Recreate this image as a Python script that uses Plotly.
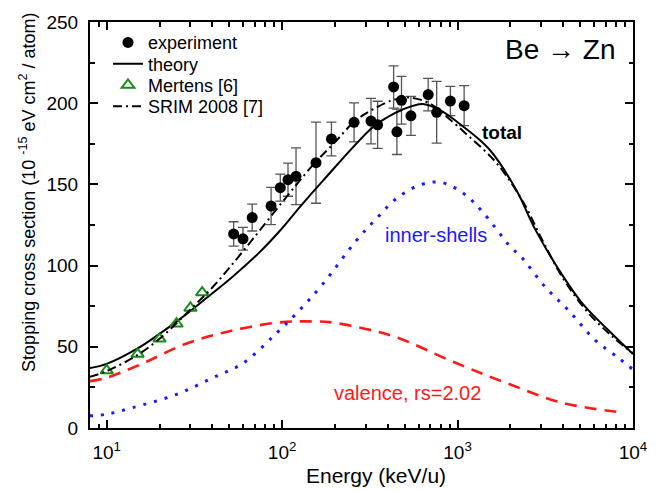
import numpy as np
import plotly.graph_objects as go

# ---- data ----
exp_E = [52.9, 59.8, 67.5, 86.5, 97.6, 108, 120, 156, 191, 257, 321, 350,
         432, 451, 479, 542, 680, 760, 910, 1090]
exp_S = [119.5, 116.5, 129.6, 136.7, 148, 152.9, 155, 163.4, 178, 188.2, 189, 186.7,
         210, 182.4, 201.8, 192.2, 205.3, 194.4, 201.3, 198.5]
exp_err = [7.5, 7, 8.3, 11.5, 8.3, 10.2, 17.5, 25, 10.4, 12, 14, 14.5,
           13, 14, 14.7, 12, 10, 19, 9, 12.3]

mert_E = [10, 15, 20, 25, 30, 35]
mert_S = [35.4, 45.5, 54.9, 64.2, 73.9, 83.4]

theory_E = [8, 10, 15, 20, 25, 30, 37, 52, 74, 100, 126, 170, 327,
            400, 484, 630, 786, 1065, 1520, 2150, 2780, 3930, 5170, 7270, 10000]
theory_S = [36.9, 39.5, 49, 58, 65.5, 72, 80, 93, 108, 123, 136, 152, 185,
            191.5, 196, 199.5, 196, 186, 171.5, 147, 122, 94.6, 76.4, 60, 45.5]

srim_E = [8, 10, 15, 20, 25, 30, 40, 60, 100, 150, 200, 260, 327, 430, 530, 690, 860,
          1160, 1660, 2370, 3000, 4000, 5500, 7500, 10000]
srim_S = [31.5, 35, 45, 55, 64.5, 73, 86.5, 109, 139, 162, 176, 189, 196, 202, 203.5, 200, 192,
          179.6, 163.4, 139, 117, 92, 71.5, 57, 46]

inner_E = [8, 10, 14, 25, 40, 60, 92, 125, 170, 263, 345, 445, 608, 800, 1070, 1390,
           2030, 2250, 3180, 4300, 6100, 8300, 10000]
inner_S = [7.5, 8.5, 12.5, 20.7, 30.8, 40, 58, 72.3, 88.5, 115, 129, 141, 149.6, 151.3, 144.8, 133,
           110.8, 106.7, 86.5, 72.3, 54, 43, 36]

val_E = [8, 10, 15.4, 28.5, 52, 100, 150, 186, 300, 445, 980, 1890, 3930, 8800]
val_S = [28.8, 31, 38.9, 52, 60, 65.2, 65.6, 65.2, 61, 56, 40, 27.8, 15.6, 9.5]

x_tickvals = [10, 100, 1000, 10000]
x_ticktext = ["10<sup>1</sup>", "10<sup>2</sup>", "10<sup>3</sup>", "10<sup>4</sup>"]
x_minor = [9] + [m * 10 ** k for k in (1, 2, 3) for m in range(2, 10)]

FONT = "Liberation Sans, Arial, sans-serif"

fig = go.Figure()

fig.add_trace(go.Scatter(x=val_E, y=val_S, mode="lines", showlegend=False,
                         line=dict(color="#ff1a1a", width=2.6, dash="12px,8px", shape="spline")))
fig.add_trace(go.Scatter(x=inner_E, y=inner_S, mode="lines", showlegend=False,
                         line=dict(color="#1a1aff", width=3, dash="3px,8px", shape="spline")))

fig.add_trace(go.Scatter(x=exp_E, y=exp_S, mode="markers", name="experiment", legend="legend",
                         marker=dict(color="black", size=11, symbol="circle"),
                         error_y=dict(type="data", array=exp_err, color="#555555",
                                      thickness=1.3, width=5)))
fig.add_trace(go.Scatter(x=theory_E, y=theory_S, mode="lines", name="theory", legend="legend2",
                         line=dict(color="black", width=2, shape="spline")))
fig.add_trace(go.Scatter(x=mert_E, y=mert_S, mode="markers", name="Mertens [6]", legend="legend3",
                         marker=dict(symbol="triangle-up-open", size=11, color="#1a8c1a",
                                     line=dict(width=2, color="#1a8c1a"))))
fig.add_trace(go.Scatter(x=srim_E, y=srim_S, mode="lines", name="SRIM 2008 [7]", legend="legend4",
                         line=dict(color="black", width=2, dash="9px,4px,2px,4px", shape="spline")))

axis_common = dict(showline=True, linecolor="black", linewidth=2, mirror="ticks",
                   ticks="inside", ticklen=8, tickwidth=1.5, tickcolor="black",
                   showgrid=False, zeroline=False,
                   tickfont=dict(family=FONT, size=19, color="black"))

fig.update_xaxes(type="log", range=[np.log10(8.03), 4], tickvals=x_tickvals, ticktext=x_ticktext,
                 minor=dict(tickvals=x_minor, ticks="inside", ticklen=4.5, tickwidth=1.5,
                            tickcolor="black", showgrid=False),
                 ticklabelstandoff=6, **axis_common)
fig.update_yaxes(range=[0, 250], tickvals=[0, 50, 100, 150, 200, 250],
                 minor=dict(dtick=25, ticks="inside", ticklen=4.5, tickwidth=1.5,
                            tickcolor="black", showgrid=False),
                 ticklabelstandoff=6, **axis_common)

W, H = 664, 491
L, R, T, B = 90, 31, 17, 63
pw, ph = W - L - R, H - T - B


def px(xp):
    return (xp - L) / pw


def py(yp):
    return (H - B - yp) / ph


annotations = [
    dict(text="Stopping cross section (10 <sup>-15</sup> eV cm<sup>2</sup> / atom)",
         x=px(28), y=py(190), textangle=-90, font=dict(size=18)),
    dict(text="Energy (keV/u)", x=px(376), y=py(476), font=dict(size=21)),
    dict(text="Be \u2192 Zn", x=px(617), y=py(45), xanchor="right", font=dict(size=28)),
    dict(text="<b>total</b>", x=px(502), y=py(129), font=dict(size=19)),
    dict(text="inner-shells", x=px(436), y=py(233), font=dict(size=20, color="#1a1aff")),
    dict(text="valence, rs=2.02", x=px(407), y=py(393), font=dict(size=20, color="#ff1a1a")),
]
for a in annotations:
    a.setdefault("xanchor", "center")
    a.update(xref="paper", yref="paper", yanchor="middle", showarrow=False)
    a["font"].setdefault("color", "black")
    a["font"]["family"] = FONT

leg_rows = [38, 59.5, 81, 102.5]
leg_common = dict(xanchor="left", yanchor="middle", bgcolor="rgba(0,0,0,0)",
                  font=dict(family=FONT, size=18, color="black"), borderwidth=0)
legends = {}
for i, yr in enumerate(leg_rows):
    key = "legend" if i == 0 else "legend%d" % (i + 1)
    legends[key] = dict(x=px(108), y=py(yr), **leg_common)

fig.update_layout(
    width=W, height=H, margin=dict(l=L, r=R, t=T, b=B),
    paper_bgcolor="white", plot_bgcolor="white",
    font=dict(family=FONT, size=18, color="black"),
    annotations=annotations,
    **legends,
)

fig.write_html("out.html")
